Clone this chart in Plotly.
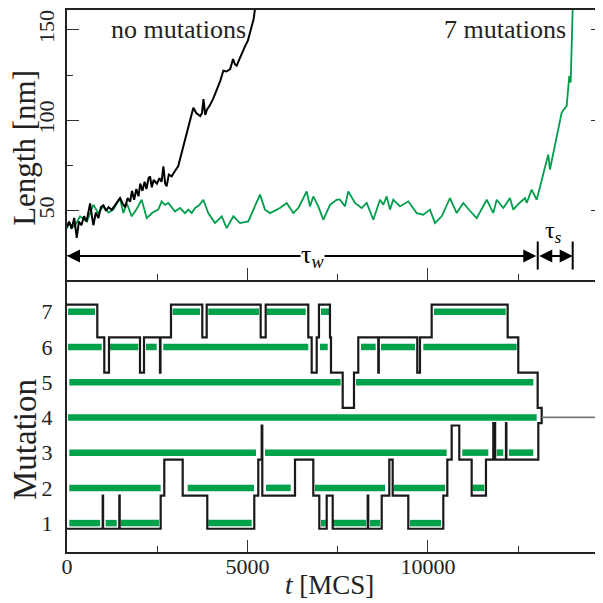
import plotly.graph_objects as go

# ---------------- data ----------------
# top panel: length vs time, no mutations (black)
nomut_t = [0, 60, 130, 200, 270, 330, 400, 470, 540, 600, 640, 690, 730, 800, 870, 940, 1010, 1080,
           1150, 1240, 1330, 1400, 1470, 1540, 1610, 1680, 1750, 1800, 1860, 1920, 1980, 2030, 2090,
           2150, 2200, 2260, 2300, 2350, 2400, 2490, 2560, 2620, 2670, 2720, 2760, 2820, 2900, 2990,
           3080, 3150, 3250, 3350, 3500, 3580, 3690, 3740, 3780, 3830, 3880, 3950, 4050, 4150, 4250,
           4330, 4420, 4520, 4600, 4650, 4700, 4780, 4860, 4940, 5010, 5070, 5120, 5170, 5210]
nomut_L = [41, 44, 40, 46, 35, 44, 42, 47, 44, 50, 54, 47, 42, 49, 46, 52, 53, 50,
           52, 50.5, 53, 55, 57, 54, 52, 57, 55, 61, 56, 62, 58, 65, 61,
           66, 62, 68, 69, 63, 67, 65, 68, 66, 74.6, 65, 63.5, 70, 69, 72,
           74.6, 80, 88, 96, 107, 104, 102.4, 104, 111.7, 103, 106, 108, 112, 117, 122,
           127.4, 127, 128.3, 133.9, 131, 130.2, 134, 138, 141.3, 144, 148.7, 152, 156, 162]

# top panel: 7 mutations (green)
mut7_t = [0, 36, 200, 360, 550, 729, 867, 1006, 1150, 1283, 1468, 1560, 1654, 1792, 1930, 2069, 2208,
          2370, 2529, 2623, 2715, 2806, 2992, 3130, 3269, 3360, 3454, 3546, 3660, 3776, 3914, 4100,
          4285, 4424, 4607, 4792, 5022, 5161, 5346, 5485, 5623, 5900, 6086, 6269, 6407, 6454, 6640,
          6731, 6823, 6961, 7100, 7285, 7471, 7562, 7701, 7792, 7978, 8163, 8302, 8485, 8670, 8762,
          8856, 8947, 9039, 9224, 9454, 9687, 9870, 10055, 10194, 10379, 10609, 10795, 10978, 11160,
          11349, 11626, 11809, 11903, 12086, 12271, 12363, 12520, 12687, 12734, 12872, 13011, 13170,
          13332, 13379, 13565, 13703, 13842, 13914, 13953, 13985, 14008]
mut7_L = [40, 43.2, 41, 46.9, 44, 53.3, 48.7, 52.4, 49, 50.6, 57, 48.7, 54.3, 46.9, 51, 56.1, 45.9,
          49, 50.6, 55.2, 53.3, 54.3, 49.6, 51.5, 48.7, 50.6, 48.7, 51.5, 53, 56.1, 48.7, 43.2,
          46.9, 40.4, 46.9, 43.2, 44.1, 50.6, 58.9, 50.6, 48.7, 51.5, 54.3, 48.7, 51.5, 53.3, 60.7,
          52.4, 57.9, 52.4, 45, 53.3, 56.1, 56.1, 52.4, 60.7, 54.3, 51.5, 54.3, 45, 56.1, 53.3,
          57.9, 50.6, 56.1, 52.4, 55.2, 48.7, 47.8, 50.6, 43.2, 46.9, 57, 48.7, 54.3, 50,
          45.9, 56.1, 48.7, 56.1, 51.5, 57, 50.6, 54, 57, 54.3, 61.7, 56.1, 68,
          81.1, 72.8, 91.3, 104.3, 108, 124.6, 120.9, 140, 162]

# bottom panel: intervals in which each mutation is present (green bars)
mut_levels = [7, 6, 5, 4, 3, 2, 1]
mut_intervals = [
    [(30, 776), (2928, 3684), (3914, 5318), (5532, 6612), (7036, 7266), (10166, 12152)],
    [(30, 961), (1172, 1975), (2188, 2485), (2668, 6684), (7008, 7222), (8144, 8551),
     (8698, 9640), (9870, 12457)],
    [(64, 7581), (8005, 12917)],
    [(30, 13011)],
    [(64, 5235), (5485, 10518), (10950, 11670), (11903, 12086), (12243, 12917)],
    [(64, 2595), (3343, 5180), (5512, 6196), (6870, 8809), (9058, 10471), (11238, 11559)],
    [(64, 914), (1072, 1377), (1496, 2548), (3914, 5116), (7036, 7166), (7349, 8282),
     (8393, 8670), (9501, 10360)],
]

# black envelope: upper edge (above highest mutation) and lower edge (below lowest)
upper_t = [0, 839, 1033, 1163, 2022, 2133, 2576, 2590, 2881, 3748, 3870, 5365, 5504, 6684, 6778,
           6917, 6980, 7285, 7313, 7637, 7950, 8069, 8623, 8637, 9703, 9778, 10102, 12207, 12501,
           13038]
upper_y = [7.2, 6.27, 5.27, 6.27, 5.27, 6.27, 5.27, 6.27, 7.2, 6.27, 7.2, 6.27, 7.2, 6.27, 5.27,
           6.27, 7.2, 6.27, 5.27, 4.27, 5.27, 6.27, 5.27, 6.27, 5.27, 6.27, 7.2, 6.27, 5.27,
           4.27]
lower_t = [0, 989, 1000, 1449, 1460, 2595, 2695, 3205, 3886, 5188, 5299, 5393, 5410, 6316, 6823,
           6989, 7194, 7360, 8330, 8345, 8718, 8928, 9022, 9454, 10424, 10535, 10656, 10867, 11210,
           11606, 11809, 11860, 12160, 12172, 13056]
lower_y = [0.84, 1.78, 0.84, 1.78, 0.84, 1.78, 2.8, 1.78, 0.84, 1.78, 2.8, 3.77, 1.78, 2.8, 1.78,
           0.84, 1.78, 0.84, 1.78, 0.84, 1.78, 2.8, 1.78, 0.84, 1.78, 2.8, 3.77, 2.8, 1.78,
           2.8, 3.84, 2.8, 3.84, 2.8, 3.84]
t_fix = 13149          # time at which mutation 4 is fixed
t_max = 14848

tau_w_end = 13040
tau_s_end = 14008

x_ticks = [0, 5000, 10000]
len_ticks = [50, 100, 150]

# ---------------- figure ----------------
GREEN = "#00a14b"
FONT = "Liberation Serif, Times New Roman, serif"
TXT = "#222222"

def steps(ts, ys, t_end):
    xs, yy = [], []
    for i, lv in enumerate(ys):
        t0 = ts[i]
        t1 = ts[i + 1] if i + 1 < len(ts) else t_end
        xs += [t0, t1]
        yy += [lv, lv]
    return xs, yy

fig = go.Figure()

# top panel
fig.add_trace(go.Scatter(x=mut7_t, y=mut7_L, mode="lines", line=dict(color="#009e4c", width=1.8),
                         xaxis="x2", yaxis="y2", showlegend=False))
fig.add_trace(go.Scatter(x=nomut_t, y=nomut_L, mode="lines", line=dict(color="black", width=2),
                         xaxis="x2", yaxis="y2", showlegend=False))

# bottom panel green bars
bx, by = [], []
for lv, ivs in zip(mut_levels, mut_intervals):
    for a, b in ivs:
        bx += [a, b, None]
        by += [lv, lv, None]
fig.add_trace(go.Scatter(x=bx, y=by, mode="lines", line=dict(color=GREEN, width=6.5),
                         showlegend=False))

# black envelope (closed path)
ux, uy = steps(upper_t, upper_y, t_fix)
lx, ly = steps(lower_t, lower_y, t_fix)
ex = ux + lx[::-1]
ey = uy + ly[::-1]
fig.add_trace(go.Scatter(x=ex, y=ey, mode="lines", line=dict(color="#1a1a1a", width=2.2),
                         showlegend=False))
# fixed mutation line
fig.add_trace(go.Scatter(x=[t_fix, t_max], y=[4, 4], mode="lines",
                         line=dict(color="#777777", width=1.8), showlegend=False))

# tau arrows in top panel
tau_y = 25
fig.add_annotation(x=0, y=tau_y, ax=tau_w_end, ay=tau_y, xref="x2", yref="y2", axref="x2", ayref="y2",
                   showarrow=True, arrowhead=2, arrowside="end+start", arrowsize=1.3, arrowwidth=2,
                   arrowcolor="black", text="")
fig.add_annotation(x=tau_s_end, y=tau_y, ax=tau_w_end, ay=tau_y, xref="x2", yref="y2", axref="x2",
                   ayref="y2", showarrow=True, arrowhead=2, arrowside="end+start", arrowsize=1.3,
                   arrowwidth=2, arrowcolor="black", text="")
for tv in (tau_w_end, tau_s_end):
    fig.add_shape(type="line", x0=tv, x1=tv, y0=tau_y - 7.5, y1=tau_y + 8, xref="x2", yref="y2",
                  line=dict(color="black", width=2))
fig.add_annotation(x=6800, y=tau_y, xref="x2", yref="y2", text="τ<sub><i>w</i></sub>", showarrow=False,
                   font=dict(family=FONT, size=26, color="black"), bgcolor="white", borderpad=0,
                   xanchor="center", yanchor="middle")
fig.add_annotation(x=13480, y=38, xref="x2", yref="y2", text="τ<sub><i>s</i></sub>", showarrow=False,
                   font=dict(family=FONT, size=24, color="black"), xanchor="center", yanchor="middle")

fig.add_annotation(x=3080, y=150, xref="x2", yref="y2", text="no mutations", showarrow=False,
                   font=dict(family=FONT, size=26, color=TXT), xanchor="center", yanchor="middle")
fig.add_annotation(x=12120, y=150, xref="x2", yref="y2", text="7 mutations", showarrow=False,
                   font=dict(family=FONT, size=26, color=TXT), xanchor="center", yanchor="middle")

# axis titles
fig.add_annotation(x=-0.079, y=0.745, xref="paper", yref="paper", text="Length [nm]", textangle=-90,
                   showarrow=False, font=dict(family=FONT, size=31, color=TXT),
                   xanchor="center", yanchor="middle")
fig.add_annotation(x=-0.078, y=0.207, xref="paper", yref="paper", text="Mutation", textangle=-90,
                   showarrow=False, font=dict(family=FONT, size=33, color=TXT),
                   xanchor="center", yanchor="middle")
fig.add_annotation(x=0.49, y=-0.061, xref="paper", yref="paper", text="<i>t</i> [MCS]",
                   showarrow=False, font=dict(family=FONT, size=27, color=TXT),
                   xanchor="center", yanchor="middle")

split = (552 - 280) / 542
axis_common = dict(showgrid=False, zeroline=False, linecolor="#222", linewidth=2, automargin=False,
                   tickfont=dict(family=FONT, size=22, color=TXT))

# the page body adds an 8px offset, so the figure is 595 px and margins are shifted by 8 px
fig.update_layout(
    width=595, height=595,
    margin=dict(l=59, r=0, t=2, b=51),
    plot_bgcolor="white", paper_bgcolor="white",
    font=dict(family=FONT, size=22, color=TXT),
    xaxis=dict(domain=[0, 1], range=[0, t_max], anchor="y", tickvals=x_ticks,
               ticktext=[str(v) for v in x_ticks], ticks="inside", ticklen=12, tickwidth=1.2,
               tickcolor="#333", showline=True, ticklabelstandoff=-6,
               minor=dict(dtick=2500, ticks="inside", ticklen=6, tickcolor="#333", tickwidth=1.2),
               **axis_common),
    yaxis=dict(domain=[0, split], range=[0.18, 7.9], anchor="x", tickvals=mut_levels,
               ticks="", showline=True, ticklabelstandoff=8, **axis_common),
    xaxis2=dict(domain=[0, 1], range=[0, t_max], anchor="y2", matches="x", showticklabels=False,
                tickvals=x_ticks, ticks="inside", ticklen=12, tickwidth=1.2, tickcolor="#333",
                minor=dict(dtick=2500, ticks="inside", ticklen=6, tickcolor="#333", tickwidth=1.2),
                showline=True, mirror=True, **axis_common),
    yaxis2=dict(domain=[split, 1], range=[11.7, 161], anchor="x2", tickvals=len_ticks,
                ticks="inside", ticklen=12, tickwidth=1.2, tickcolor="#333", tickangle=-90,
                ticklabelstandoff=2,
                minor=dict(dtick=25, ticks="inside", ticklen=6, tickcolor="#333", tickwidth=1.2),
                showline=True, mirror="ticks", **axis_common),
)

fig.write_html("out.html")
